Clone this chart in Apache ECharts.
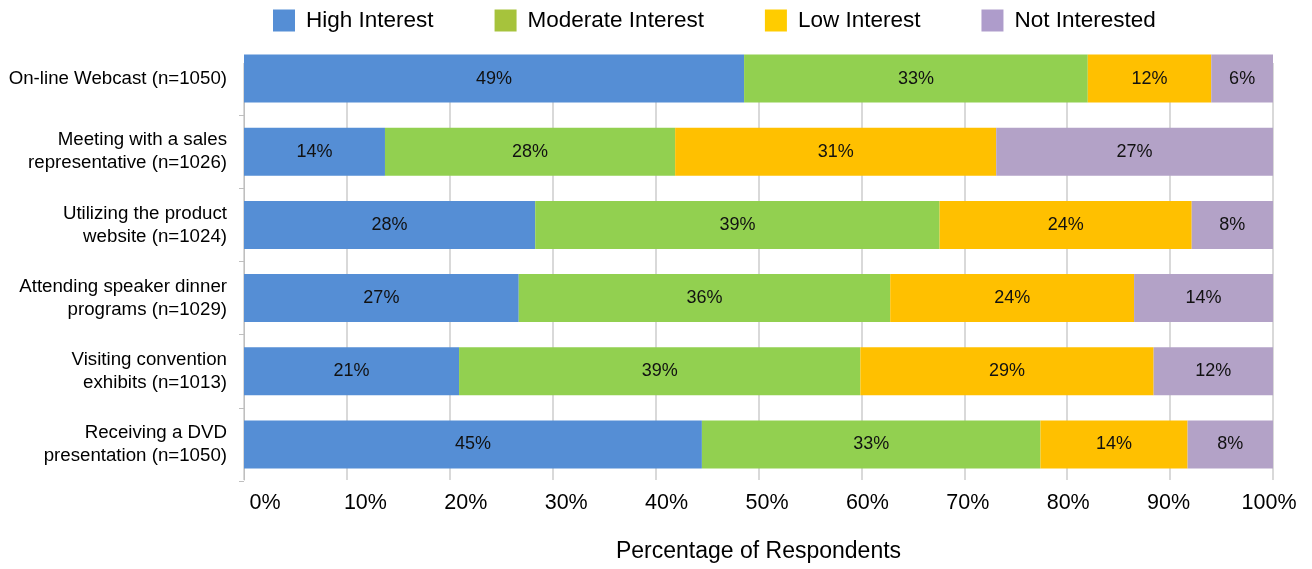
<!DOCTYPE html>
<html>
<head>
<meta charset="utf-8">
<script src="https://cdn.jsdelivr.net/npm/echarts@6/dist/echarts.min.js"></script>
<style>html,body{margin:0;padding:0;background:#fff}#c{width:1312px;height:569px}</style>
</head>
<body>
<div id="c"></div>
<script>
const categories = [
  "On-line Webcast (n=1050)",
  "Meeting with a sales\nrepresentative (n=1026)",
  "Utilizing the product\nwebsite (n=1024)",
  "Attending speaker dinner\nprograms (n=1029)",
  "Visiting convention\nexhibits (n=1013)",
  "Receiving a DVD\npresentation (n=1050)"
];
const seriesNames = ["High Interest", "Moderate Interest", "Low Interest", "Not Interested"];
const highInterest = [48.6, 13.7, 28.3, 26.7, 20.9, 44.5];
const moderateInterest = [33.4, 28.2, 39.3, 36.1, 39.0, 32.9];
const lowInterest = [12.0, 31.2, 24.5, 23.7, 28.5, 14.3];
const notInterested = [6.0, 26.9, 7.9, 13.5, 11.6, 8.3];
const labelValues = [
  [49, 14, 28, 27, 21, 45],
  [33, 28, 39, 36, 39, 33],
  [12, 31, 24, 24, 29, 14],
  [6, 27, 8, 14, 12, 8]
];
const tickLabels = ["0%","10%","20%","30%","40%","50%","60%","70%","80%","90%","100%"];

const barColors = ["#558ed5", "#92d050", "#ffc000", "#b3a2c7"];
const legendColors = ["#558ed5", "#a6c33c", "#ffcc00", "#ae9ccb"];
const values = [highInterest, moderateInterest, lowInterest, notInterested];
const FONT = "Liberation Sans, Arial, sans-serif";

const chart = echarts.init(document.getElementById('c'), null, {renderer: 'canvas'});
chart.setOption({
  animation: false,
  textStyle: {fontFamily: FONT},
  legend: {
    top: 4,
    left: 268,
    itemWidth: 22,
    itemHeight: 22,
    itemGap: 61,
    textStyle: {fontSize: 22.5, color: '#000', fontFamily: FONT, padding: [0, 0, 0, 6]},
    data: seriesNames.map((n, i) => ({name: n, icon: 'rect', itemStyle: {color: legendColors[i]}}))
  },
  grid: [
    {left: 244, right: 39, top: 42, bottom: 88},
    {left: 265, right: 43, top: 42, bottom: 88},
    {left: 244, right: 39, top: 63, bottom: 89}
  ],
  xAxis: [
    {
      type: 'value', gridIndex: 0, min: 0, max: 100, interval: 10,
      axisLabel: {show: false}, axisLine: {show: false}, axisTick: {show: false},
      splitLine: {show: false}
    },
    {
      type: 'value', gridIndex: 1, min: 0, max: 100, interval: 10,
      axisLabel: {show: true, fontSize: 21.5, color: '#000', fontFamily: FONT, margin: 11,
        formatter: (v) => tickLabels[Math.round(v / 10)]},
      axisLine: {show: false}, axisTick: {show: false}, splitLine: {show: false}
    },
    {
      type: 'value', gridIndex: 2, min: 0, max: 100, interval: 10,
      axisLabel: {show: false}, axisLine: {show: false}, axisTick: {show: false},
      splitLine: {show: true, lineStyle: {color: '#d9d9d9', width: 2}},
      name: 'Percentage of Respondents', nameLocation: 'middle', nameGap: 60,
      nameTextStyle: {fontSize: 23, color: '#000', fontFamily: FONT}
    }
  ],
  yAxis: [
    {
      type: 'category', gridIndex: 0, data: categories, inverse: true,
      axisLine: {show: false},
      axisTick: {show: true, length: 5, lineStyle: {color: '#bfbfbf'},
        interval: (idx) => idx > 0},
      axisLabel: {fontSize: 18.7, color: '#000', fontFamily: FONT, margin: 17, lineHeight: 23, align: 'right'}
    },
    {
      type: 'category', gridIndex: 1, data: categories, inverse: true, show: false
    },
    {
      type: 'category', gridIndex: 2, data: categories, inverse: true,
      axisLine: {show: true, lineStyle: {color: '#bfbfbf', width: 1}},
      axisTick: {show: false}, axisLabel: {show: false}
    }
  ],
  series: seriesNames.map((n, i) => ({
    name: n,
    type: 'bar',
    stack: 'total',
    xAxisIndex: 0, yAxisIndex: 0,
    barWidth: 48,
    itemStyle: {color: barColors[i]},
    label: {
      show: true, position: 'inside', fontSize: 18, color: '#111', fontFamily: FONT,
      formatter: (p) => labelValues[i][p.dataIndex] + '%'
    },
    data: values[i]
  }))
});
</script>
</body>
</html>
